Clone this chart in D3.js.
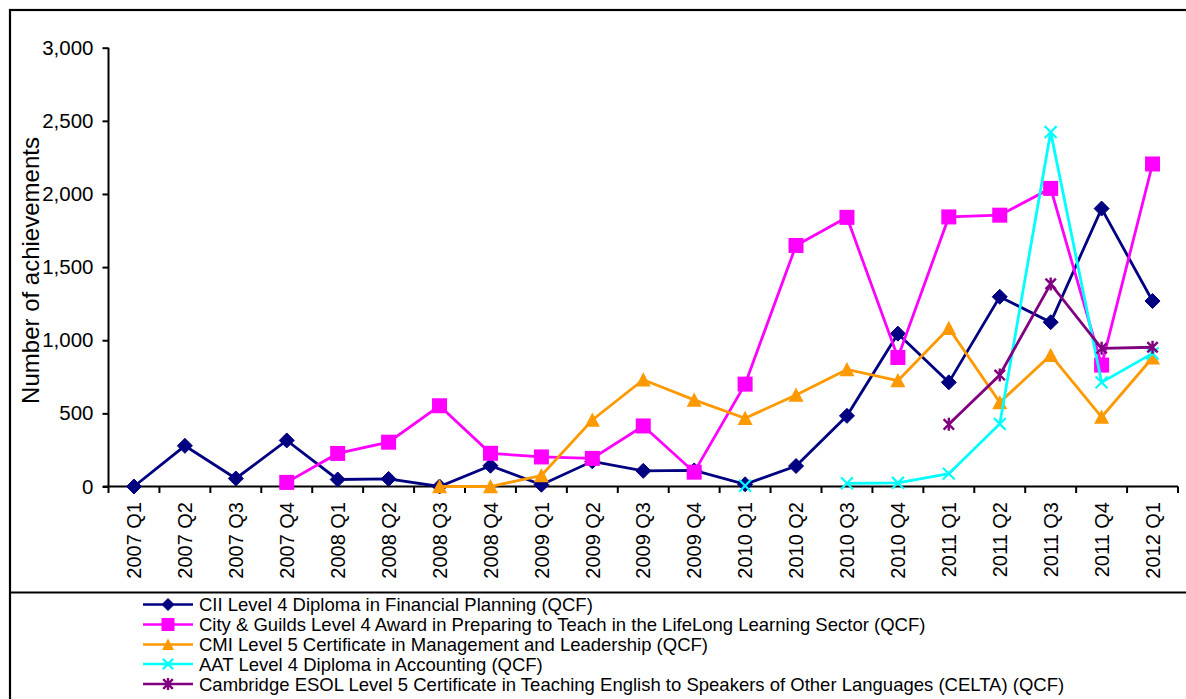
<!DOCTYPE html>
<html><head><meta charset="utf-8">
<script src="https://cdn.jsdelivr.net/npm/d3@7"></script>
<style>
html,body{margin:0;padding:0;background:#fff;}
svg{display:block;font-family:"Liberation Sans",Arial,sans-serif;}
</style></head>
<body>
<svg id="chart" width="1186" height="699"></svg>
<script>
const categories = ["2007 Q1","2007 Q2","2007 Q3","2007 Q4","2008 Q1","2008 Q2","2008 Q3","2008 Q4",
  "2009 Q1","2009 Q2","2009 Q3","2009 Q4","2010 Q1","2010 Q2","2010 Q3","2010 Q4",
  "2011 Q1","2011 Q2","2011 Q3","2011 Q4","2012 Q1"];
const ciiValues = [0,278,55,315,48,52,0,142,12,172,107,110,15,140,483,1045,712,1297,1123,1900,1268];
const cityGuildsValues = [null,null,null,28,226,303,552,227,202,192,414,98,700,1648,1840,882,1843,1855,2038,830,2205];
const cmiValues = [null,null,null,null,null,null,0,0,75,455,730,592,466,626,800,724,1082,575,898,475,880];
const aatValues = [null,null,null,null,null,null,null,null,null,null,null,null,5,null,22,25,88,428,2423,712,910];
const esolValues = [null,null,null,null,null,null,null,null,null,null,null,null,null,null,null,null,425,762,1385,945,952];
const seriesNames = [
  "CII Level 4 Diploma in Financial Planning (QCF)",
  "City & Guilds Level 4 Award in Preparing to Teach in the LifeLong Learning Sector (QCF)",
  "CMI Level 5 Certificate in Management and Leadership (QCF)",
  "AAT Level 4 Diploma in Accounting (QCF)",
  "Cambridge ESOL Level 5 Certificate in Teaching English to Speakers of Other Languages (CELTA) (QCF)"
];
const yTicks = [0,500,1000,1500,2000,2500,3000];
const yTitle = "Number of achievements";

const series = [
  {name: seriesNames[0], values: ciiValues, color: "#000080", marker: "diamond"},
  {name: seriesNames[1], values: cityGuildsValues, color: "#FF00FF", marker: "square"},
  {name: seriesNames[2], values: cmiValues, color: "#FF9900", marker: "triangle"},
  {name: seriesNames[3], values: aatValues, color: "#00FFFF", marker: "x"},
  {name: seriesNames[4], values: esolValues, color: "#800080", marker: "star"}
];

const svg = d3.select("#chart");

// outer frame and legend separator
svg.append("rect").attr("x",10).attr("y",10).attr("width",1200).attr("height",720)
  .attr("fill","none").attr("stroke","#000").attr("stroke-width",2.2);
svg.append("line").attr("x1",10).attr("x2",1200).attr("y1",592.5).attr("y2",592.5)
  .attr("stroke","#000").attr("stroke-width",2.2);

const x = d3.scaleBand().domain(categories).range([108.5, 1178]).padding(0);
const y = d3.scaleLinear().domain([0,3000]).range([486.5, 47.7]);
const cx = d => x(d) + x.bandwidth()/2;

// y axis
const yAxis = svg.append("g").attr("transform","translate(108.5,0)")
  .call(d3.axisLeft(y).tickValues(yTicks).tickFormat(d3.format(",")).tickSize(6).tickPadding(9));
yAxis.select(".domain").attr("stroke","#000").attr("stroke-width",2).attr("d","M0,47.7V486.5");
yAxis.selectAll(".tick line").attr("stroke","#000").attr("stroke-width",2);
yAxis.selectAll("text").attr("font-size",20.5).attr("fill","#000")
  .attr("font-family","'Liberation Sans',Arial,sans-serif");

// x axis
const xAxis = svg.append("g").attr("transform","translate(0,486.5)")
  .call(d3.axisBottom(x).tickSize(0).tickFormat(""));
xAxis.select(".domain").attr("stroke","#000").attr("stroke-width",2).attr("d","M103,0H1178");
const bounds = categories.map(c => x(c)).concat([x.range()[1]]);
svg.append("g").selectAll("line").data(bounds).join("line")
  .attr("x1",d=>d).attr("x2",d=>d).attr("y1",486.5).attr("y2",493)
  .attr("stroke","#000").attr("stroke-width",2);
svg.append("g").selectAll("text").data(categories).join("text")
  .attr("transform",d=>`translate(${cx(d)},502) rotate(-90)`)
  .attr("text-anchor","end").attr("dy","0.36em")
  .attr("font-size",20).attr("fill","#000").text(d=>d);

// y title
svg.append("text").attr("transform","translate(38.5,270.5) rotate(-90)")
  .attr("text-anchor","middle").attr("font-size",24).attr("fill","#000").text(yTitle);

function drawMarker(g, type, color, s) {
  const h = s/2;
  if (type === "diamond") {
    g.append("path").attr("d",`M0,${-h}L${h},0L0,${h}L${-h},0Z`).attr("fill",color).attr("stroke",color).attr("stroke-width",1);
  } else if (type === "square") {
    g.append("rect").attr("x",-h).attr("y",-h).attr("width",s).attr("height",s).attr("fill",color);
  } else if (type === "triangle") {
    g.append("path").attr("d",`M0,${-h}L${h},${h*0.9}L${-h},${h*0.9}Z`).attr("fill",color);
  } else if (type === "x") {
    const a = h*0.85;
    g.append("path").attr("d",`M${-a},${-a}L${a},${a}M${-a},${a}L${a},${-a}`).attr("stroke",color).attr("stroke-width",2.2).attr("fill","none");
  } else if (type === "star") {
    const a = h*0.8;
    g.append("path").attr("d",`M${-a},${-a}L${a},${a}M${-a},${a}L${a},${-a}M0,${-h}L0,${h}`).attr("stroke",color).attr("stroke-width",2.4).attr("fill","none");
  }
}

const line = d3.line().defined(d => d.v !== null).x(d => cx(d.c)).y(d => y(d.v));
const sizes = {diamond:15, square:15, triangle:15, x:14, star:13};

series.forEach(s => {
  const pts = categories.map((c,i) => ({c, v: s.values[i]}));
  const g = svg.append("g");
  g.append("path").datum(pts).attr("d", line).attr("fill","none")
    .attr("stroke", s.color).attr("stroke-width", 2.8).attr("stroke-linejoin","miter");
  pts.filter(p => p.v !== null).forEach(p => {
    const mg = g.append("g").attr("transform",`translate(${cx(p.c)},${y(p.v)})`);
    drawMarker(mg, s.marker, s.color, sizes[s.marker]);
  });
});

// legend
const legend = svg.append("g");
const legY = [604.5, 624.5, 644.5, 664, 684];
series.forEach((s,i) => {
  const g = legend.append("g").attr("transform",`translate(0,${legY[i]})`);
  g.append("line").attr("x1",143).attr("x2",193).attr("y1",0).attr("y2",0)
    .attr("stroke",s.color).attr("stroke-width",2.5);
  const mg = g.append("g").attr("transform","translate(168,0)");
  drawMarker(mg, s.marker, s.color, s.marker==="square"?13:12);
  g.append("text").attr("x",199).attr("y",0).attr("dy","0.36em")
    .attr("font-size",18.5).attr("fill","#000").text(s.name);
});
</script>
</body></html>
